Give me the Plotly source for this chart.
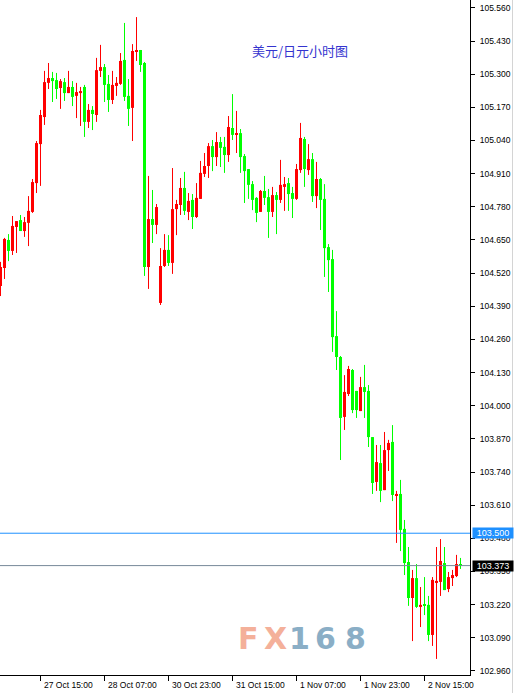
import plotly.graph_objects as go

# ---------------- data (USD/JPY hourly) ----------------
open_ = [104.469, 104.540, 104.650, 104.607, 104.701, 104.728, 104.685, 104.717, 104.760, 104.873,
         105.026, 105.132, 105.266, 105.285, 105.277, 105.246, 105.269, 105.226, 105.250, 105.215,
         105.226, 105.250, 105.113, 105.160, 105.140, 105.313, 105.328, 105.262, 105.199, 105.254,
         105.262, 105.356, 105.215, 105.168, 105.387, 105.395, 105.344, 104.544, 104.732, 104.709,
         104.403, 104.548, 104.611, 104.560, 104.771, 104.787, 104.854, 104.760, 104.807, 104.740,
         104.811, 104.909, 104.940, 105.018, 104.975, 105.034, 105.015, 104.983, 105.089, 105.062,
         105.069, 104.979, 104.928, 104.869, 104.815, 104.760, 104.842, 104.818, 104.760, 104.826,
         104.807, 104.858, 104.873, 104.834, 104.811, 104.924, 105.046, 104.924, 104.967, 104.822,
         104.889, 104.811, 104.622, 104.575, 104.273, 104.191, 103.956, 104.046, 104.140, 104.058,
         103.979, 104.073, 104.058, 103.877, 103.701, 103.775, 103.669, 103.826, 103.858, 103.646,
         103.654, 103.517, 103.387, 103.246, 103.324, 103.211, 103.222, 103.219, 103.101, 103.305,
         103.309, 103.383, 103.281, 103.324, 103.332, 103.379]
high = [104.564, 104.658, 104.673, 104.744, 104.724, 104.748, 104.740, 104.822, 104.889, 105.038,
        105.160, 105.313, 105.344, 105.309, 105.305, 105.281, 105.285, 105.313, 105.273, 105.266,
        105.250, 105.258, 105.183, 105.175, 105.364, 105.415, 105.340, 105.297, 105.313, 105.289,
        105.383, 105.501, 105.281, 105.418, 105.524, 105.395, 105.348, 104.901, 104.846, 104.791,
        104.618, 104.673, 104.669, 104.932, 104.807, 104.893, 104.917, 104.834, 104.830, 104.873,
        104.960, 104.991, 105.030, 105.042, 105.073, 105.054, 105.054, 105.136, 105.222, 105.156,
        105.085, 104.987, 104.928, 104.881, 104.818, 104.846, 104.901, 104.850, 104.858, 104.838,
        104.964, 104.897, 104.893, 104.858, 104.948, 105.109, 105.054, 105.026, 104.991, 104.956,
        104.893, 104.869, 104.634, 104.611, 104.371, 104.195, 104.120, 104.156, 104.144, 104.058,
        104.113, 104.160, 104.081, 103.877, 103.846, 103.846, 103.897, 103.866, 103.924, 103.666,
        103.709, 103.552, 103.446, 103.356, 103.379, 103.289, 103.328, 103.254, 103.328, 103.446,
        103.477, 103.446, 103.348, 103.356, 103.415, 103.403]
low = [104.430, 104.497, 104.567, 104.591, 104.599, 104.685, 104.662, 104.626, 104.756, 104.834,
       104.862, 105.101, 105.242, 105.191, 105.203, 105.164, 105.195, 105.226, 105.175, 105.128,
       105.097, 105.054, 105.089, 105.081, 105.113, 105.289, 105.191, 105.152, 105.183, 105.215,
       105.258, 105.195, 105.097, 105.038, 105.352, 105.309, 104.509, 104.458, 104.638, 104.673,
       104.395, 104.544, 104.548, 104.517, 104.669, 104.748, 104.748, 104.728, 104.693, 104.736,
       104.811, 104.897, 104.893, 104.920, 104.940, 104.936, 104.913, 104.956, 105.042, 104.991,
       104.913, 104.795, 104.811, 104.767, 104.720, 104.760, 104.787, 104.658, 104.740, 104.673,
       104.795, 104.764, 104.764, 104.736, 104.807, 104.913, 104.858, 104.905, 104.799, 104.775,
       104.689, 104.505, 104.446, 104.211, 104.140, 103.787, 103.905, 104.038, 103.971, 103.952,
       103.979, 103.952, 103.838, 103.654, 103.666, 103.622, 103.669, 103.744, 103.626, 103.462,
       103.430, 103.336, 103.215, 103.077, 103.207, 103.132, 103.179, 103.077, 103.058, 103.007,
       103.254, 103.277, 103.269, 103.293, 103.328, 103.360]
close = [104.544, 104.654, 104.607, 104.705, 104.724, 104.685, 104.720, 104.764, 104.877, 105.030,
         105.140, 105.269, 105.285, 105.273, 105.242, 105.273, 105.226, 105.250, 105.211, 105.230,
         105.234, 105.113, 105.160, 105.144, 105.316, 105.328, 105.258, 105.199, 105.258, 105.266,
         105.352, 105.211, 105.164, 105.391, 105.395, 105.336, 104.544, 104.732, 104.709, 104.779,
         104.548, 104.611, 104.560, 104.771, 104.791, 104.854, 104.764, 104.803, 104.740, 104.815,
         104.913, 104.940, 105.018, 104.975, 105.034, 105.011, 104.983, 105.093, 105.062, 105.069,
         104.975, 104.920, 104.866, 104.807, 104.756, 104.842, 104.815, 104.760, 104.826, 104.807,
         104.866, 104.869, 104.830, 104.811, 104.928, 105.050, 104.928, 104.967, 104.822, 104.889,
         104.807, 104.618, 104.571, 104.269, 104.191, 103.952, 104.054, 104.144, 103.983, 103.983,
         104.073, 104.054, 103.877, 103.697, 103.779, 103.666, 103.826, 103.854, 103.650, 103.654,
         103.513, 103.383, 103.246, 103.324, 103.211, 103.219, 103.215, 103.101, 103.317, 103.313,
         103.391, 103.277, 103.328, 103.336, 103.379, 103.373]

time_label_bar = [-6, 10, 26, 42, 58, 74, 90, 106]
time_labels = ["26 Oct 23:00", "27 Oct 15:00", "28 Oct 07:00", "30 Oct 23:00",
               "31 Oct 15:00", "1 Nov 07:00", "1 Nov 23:00", "2 Nov 15:00"]

level_lines = [103.500, 103.373]
level_colors = ["#1e90ff", "#778899"]
level_box_colors = ["#1e90ff", "#000000"]

title_text = "美元/日元小时图"
watermark_chars = ["F", "X", "1", "6", "8"]
watermark_colors = ["#f4b09a", "#f4b09a", "#8aaec6", "#8aaec6", "#8aaec6"]

# ---------------- figure ----------------
W, H = 516, 693
ML, MR, MT, MB = 0, 46, 0, 18
PW, PH = W - ML - MR, H - MT - MB

UP = "#ff0000"
DOWN = "#00ff00"

idx = list(range(len(close)))
fig = go.Figure()

for is_up, col in ((True, UP), (False, DOWN)):
    wx, wy = [], []
    bx, bbase, bh = [], [], []
    for i in idx:
        up = close[i] >= open_[i]
        if up != is_up:
            continue
        wx += [i, i, None]
        wy += [low[i], high[i], None]
        lo_b = min(open_[i], close[i])
        hgt = max(abs(close[i] - open_[i]), 0.004)
        bx.append(i)
        bbase.append(lo_b)
        bh.append(hgt)
    fig.add_trace(go.Scatter(x=wx, y=wy, mode="lines",
                             line=dict(color=col, width=1),
                             hoverinfo="skip", showlegend=False))
    fig.add_trace(go.Bar(x=bx, y=bh, base=bbase, width=0.75,
                         marker=dict(color=col, line=dict(width=0)),
                         hoverinfo="skip", showlegend=False))

# horizontal level lines and their price boxes
for lv, lc, bc in zip(level_lines, level_colors, level_box_colors):
    fig.add_shape(type="line", xref="paper", yref="y", x0=0, x1=1, y0=lv, y1=lv,
                  line=dict(color=lc, width=1), layer="above")
    fig.add_annotation(xref="paper", yref="y", x=472 / PW, y=lv, xanchor="left",
                       yanchor="middle", text=f"{lv:.3f}", showarrow=False,
                       bgcolor=bc, width=40, height=10, borderpad=0,
                       font=dict(family="Liberation Sans, Arial", size=9, color="white"))

# time labels (left aligned after tick marks, MT4 style)
for b, t in zip(time_label_bar, time_labels):
    fig.add_annotation(xref="x", yref="paper", x=b, y=0, xanchor="left", yanchor="top",
                       xshift=1, yshift=-3, text=t, showarrow=False,
                       font=dict(family="Liberation Sans, Arial", size=8.5, color="black"))

# title
fig.add_annotation(xref="paper", yref="paper", x=300 / PW, y=1 - 50 / PH,
                   xanchor="center", yanchor="middle", text=title_text, showarrow=False,
                   font=dict(family="Noto Sans CJK SC", size=13, color="#3434cf"))

# watermark
wm_x = [248, 275, 299, 325, 355]
for cx, ch, cc in zip(wm_x, watermark_chars, watermark_colors):
    fig.add_annotation(xref="paper", yref="paper", x=cx / PW, y=1 - 638 / PH,
                       xanchor="center", yanchor="middle", text=f"<b>{ch}</b>",
                       showarrow=False,
                       font=dict(family="DejaVu Sans", size=30, color=cc))

# faint right frame line
fig.add_shape(type="line", xref="paper", yref="paper", x0=512.5 / PW, x1=512.5 / PW,
              y0=-MB / PH, y1=1, line=dict(color="#d4d4d4", width=1))

fig.update_layout(
    width=W, height=H,
    margin=dict(l=ML, r=MR, t=MT, b=MB, pad=0),
    paper_bgcolor="white", plot_bgcolor="white",
    barmode="overlay", showlegend=False,
    xaxis=dict(range=[-0.125, 117.375], showgrid=False, zeroline=False,
               showline=True, linecolor="black", linewidth=1,
               tickmode="array", tickvals=time_label_bar, ticks="outside",
               ticklen=5, tickcolor="black", showticklabels=False, fixedrange=True),
    yaxis=dict(range=[102.944, 105.591], side="right", showgrid=False, zeroline=False,
               showline=True, linecolor="black", linewidth=1,
               tick0=102.96, dtick=0.13, tickformat=".3f", ticks="outside",
               ticklen=4, tickcolor="black", ticklabelstandoff=3,
               tickfont=dict(family="Liberation Sans, Arial", size=8.5, color="black"),
               fixedrange=True),
)

fig.write_html("out.html", config={"displayModeBar": False},
               post_script="document.body.style.margin='0px';document.body.style.overflow='hidden';")
